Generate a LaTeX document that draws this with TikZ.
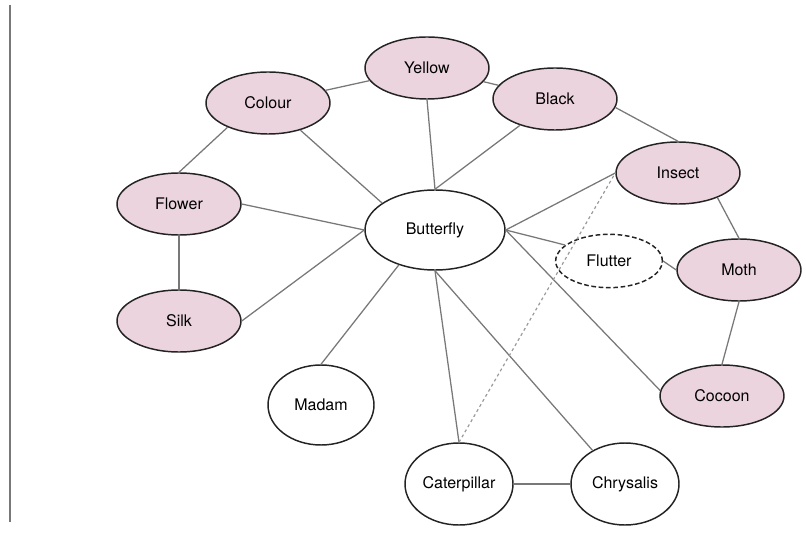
\documentclass[tikz,border=0pt]{standalone}
\usepackage{fontspec}
\setmainfont{TeX Gyre Heros}
\usepackage{tikz}
\usetikzlibrary{shapes.geometric}

\definecolor{petal}{RGB}{235,212,222}
\definecolor{rim}{RGB}{35,35,35}
\definecolor{link}{RGB}{120,120,120}

\begin{document}
\begin{tikzpicture}[x=0.75pt, y=-0.75pt,
                word/.style={ellipse, draw=rim, line width=1.1pt, inner sep=0pt,
                        font=\fontsize{12}{14}\selectfont, minimum width=93pt, minimum height=46.5pt},
                hued/.style={word, fill=petal},
                loose/.style={word, dashed, dash pattern=on 3.5pt off 2pt},
                tie/.style={draw=link, line width=0.95pt},
                hint/.style={draw=link!75, line width=0.9pt, dash pattern=on 2.2pt off 2.2pt}]
                \useasboundingbox (0,0) rectangle (806,538);
                \draw[draw=link, line width=1.1pt] (10,5) -- (10,522);
                \node[hued] (Yellow) at (427,68) {Yellow};
                \node[hued] (Colour) at (268,103) {Colour};
                \node[hued] (Black) at (555,99) {Black};
                \node[hued] (Flower) at (179,204) {Flower};
                \node[hued] (Silk) at (179,321) {Silk};
                \node[hued] (Insect) at (678,173) {Insect};
                \node[hued] (Moth) at (739,270) {Moth};
                \node[hued] (Cocoon) at (722,396) {Cocoon};
                \node[word, minimum width=105pt, minimum height=60pt] (Butterfly) at (435,230) {Butterfly};
                \node[loose, minimum width=80pt, minimum height=40pt] (Flutter) at (609,261) {Flutter};
                \node[word, minimum width=79.5pt, minimum height=60pt] (Madam) at (321,405) {Madam};
                \node[word, minimum width=81pt, minimum height=61.5pt] (Caterpillar) at (459,484) {Caterpillar};
                \node[word, minimum width=81pt, minimum height=61.5pt] (Chrysalis) at (625,484) {Chrysalis};
                \path[tie]
                (Colour) edge (Yellow)
                (Yellow) edge (Black)
                (Black.-8) edge (Insect.north)
                (Insect.-32) edge (Moth.north)
                (Moth.south) edge (Cocoon.north)
                (Colour.211) edge (Flower.north)
                (Flower.south) edge (Silk.north)
                (Colour.-40) edge (Butterfly.153)
                (Yellow.south) edge (Butterfly.north)
                (Black) edge (Butterfly.north)
                (Flower.east) edge (Butterfly.west)
                (Silk.east) edge (Butterfly.west)
                (Butterfly.east) edge (Insect.west)
                (Butterfly.east) edge (Flutter.160)
                (Butterfly.east) edge (Cocoon.175)
                (Flutter.east) edge (Moth.west)
                (Butterfly.224) edge (Madam.north)
                (Butterfly.south) edge (Caterpillar.north)
                (Butterfly.south) edge (Chrysalis.134)
                (Caterpillar.east) edge (Chrysalis.west);
                \path[hint] (Caterpillar.north) edge (Insect.west);
        \end{tikzpicture}
\end{document}
